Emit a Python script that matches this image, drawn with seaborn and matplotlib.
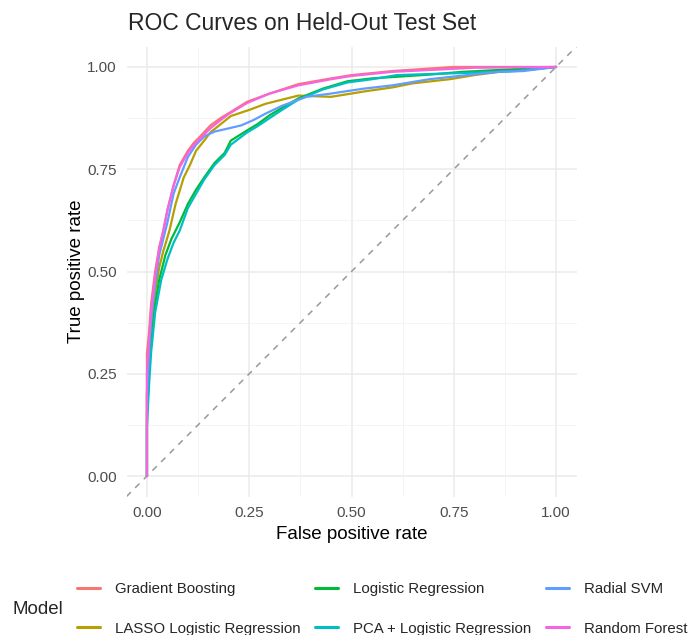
import numpy as np
import pandas as pd
import matplotlib
matplotlib.use("Agg")
import matplotlib.pyplot as plt
import seaborn as sns
from matplotlib.lines import Line2D

models = ["Gradient Boosting", "LASSO Logistic Regression", "Logistic Regression",
          "PCA + Logistic Regression", "Radial SVM", "Random Forest"]
colors = ["#F8766D", "#B79F00", "#00BA38", "#00BFC4", "#619CFF", "#F564E3"]

gb_fpr = [0, 0, 0.005, 0.01, 0.02, 0.03, 0.04, 0.05, 0.065, 0.08, 0.1, 0.115, 0.13, 0.155, 0.18, 0.205, 0.245, 0.3, 0.37, 0.45, 0.5, 0.6, 0.75, 1]
gb_tpr = [0, 0.30, 0.35, 0.42, 0.50, 0.56, 0.60, 0.65, 0.71, 0.76, 0.795, 0.815, 0.83, 0.857, 0.875, 0.89, 0.915, 0.935, 0.958, 0.972, 0.98, 0.99, 1.0, 1]

rf_fpr = [0, 0, 0.005, 0.01, 0.02, 0.03, 0.04, 0.05, 0.065, 0.08, 0.1, 0.115, 0.13, 0.155, 0.18, 0.2, 0.245, 0.3, 0.37, 0.45, 0.5, 0.6, 0.8, 1]
rf_tpr = [0, 0.25, 0.33, 0.40, 0.49, 0.555, 0.60, 0.65, 0.71, 0.755, 0.79, 0.81, 0.825, 0.85, 0.87, 0.885, 0.912, 0.935, 0.955, 0.97, 0.978, 0.988, 0.998, 1]

svm_fpr = [0, 0, 0.005, 0.01, 0.02, 0.03, 0.04, 0.05, 0.065, 0.08, 0.1, 0.12, 0.14, 0.165, 0.2, 0.23, 0.26, 0.29, 0.33, 0.39, 0.45, 0.53, 0.6, 0.69, 0.8, 0.86, 0.92, 1]
svm_tpr = [0, 0.2, 0.3, 0.38, 0.47, 0.54, 0.58, 0.62, 0.69, 0.73, 0.78, 0.81, 0.83, 0.842, 0.85, 0.857, 0.87, 0.886, 0.905, 0.927, 0.935, 0.947, 0.955, 0.97, 0.982, 0.988, 0.99, 1]

lasso_fpr = [0, 0, 0.005, 0.01, 0.02, 0.03, 0.04, 0.055, 0.07, 0.09, 0.105, 0.12, 0.14, 0.155, 0.18, 0.205, 0.25, 0.29, 0.33, 0.37, 0.42, 0.45, 0.5, 0.53, 0.6, 0.65, 0.74, 0.8, 0.86, 0.95, 1]
lasso_tpr = [0, 0.2, 0.28, 0.36, 0.45, 0.51, 0.55, 0.60, 0.665, 0.73, 0.76, 0.795, 0.82, 0.84, 0.86, 0.88, 0.895, 0.91, 0.92, 0.93, 0.928, 0.927, 0.935, 0.94, 0.95, 0.96, 0.97, 0.98, 0.988, 0.995, 1]

lr_fpr = [0, 0, 0.005, 0.01, 0.02, 0.03, 0.045, 0.06, 0.08, 0.1, 0.12, 0.14, 0.165, 0.19, 0.205, 0.245, 0.27, 0.3, 0.33, 0.37, 0.43, 0.49, 0.55, 0.61, 0.7, 0.77, 0.85, 0.95, 1]
lr_tpr = [0, 0.15, 0.25, 0.32, 0.42, 0.48, 0.54, 0.58, 0.62, 0.665, 0.7, 0.73, 0.765, 0.79, 0.82, 0.845, 0.86, 0.882, 0.9, 0.923, 0.947, 0.965, 0.972, 0.976, 0.982, 0.988, 0.992, 0.997, 1]

pca_fpr = [0, 0, 0.005, 0.01, 0.02, 0.035, 0.05, 0.065, 0.08, 0.1, 0.12, 0.14, 0.165, 0.19, 0.205, 0.245, 0.27, 0.3, 0.33, 0.37, 0.43, 0.49, 0.55, 0.61, 0.7, 0.8, 0.9, 0.95, 1]
pca_tpr = [0, 0.12, 0.22, 0.30, 0.40, 0.48, 0.53, 0.57, 0.60, 0.655, 0.69, 0.725, 0.76, 0.785, 0.81, 0.84, 0.855, 0.875, 0.895, 0.92, 0.945, 0.962, 0.97, 0.98, 0.983, 0.986, 0.99, 0.995, 1]

tick_values = [0, 0.25, 0.5, 0.75, 1.0]
tick_labels = ["0.00", "0.25", "0.50", "0.75", "1.00"]

curves = {
    "Gradient Boosting": (gb_fpr, gb_tpr),
    "LASSO Logistic Regression": (lasso_fpr, lasso_tpr),
    "Logistic Regression": (lr_fpr, lr_tpr),
    "PCA + Logistic Regression": (pca_fpr, pca_tpr),
    "Radial SVM": (svm_fpr, svm_tpr),
    "Random Forest": (rf_fpr, rf_tpr),
}

rows = []
for m in models:
    f, t = curves[m]
    for a, b in zip(f, t):
        rows.append({"Model": m, "fpr": a, "tpr": b})
df = pd.DataFrame(rows)

sns.set_theme(style="white")
plt.rcParams["font.family"] = ["Liberation Sans", "DejaVu Sans"]

fig = plt.figure(figsize=(6.91, 6.35), dpi=100)
ax = fig.add_axes([126.5 / 691, 1 - 496.5 / 635, 450 / 691, 450 / 635])

# grid (major + minor, theme_minimal-like)
for v in tick_values:
    ax.axvline(v, color="#EBEBEB", lw=1.1, zorder=0)
    ax.axhline(v, color="#EBEBEB", lw=1.1, zorder=0)
for v in [0.125, 0.375, 0.625, 0.875]:
    ax.axvline(v, color="#F2F2F2", lw=0.6, zorder=0)
    ax.axhline(v, color="#F2F2F2", lw=0.6, zorder=0)

ax.plot([-0.05, 1.05], [-0.05, 1.05], ls=(0, (4, 4)), color="#999999", lw=1.1, zorder=1)

sns.lineplot(data=df, x="fpr", y="tpr", hue="Model", hue_order=models,
             palette=colors, sort=False, estimator=None, units="Model",
             linewidth=1.6, ax=ax, legend=False, zorder=2)

ax.set_xlim(-0.05, 1.05)
ax.set_ylim(-0.05, 1.05)
ax.set_xticks(tick_values)
ax.set_yticks(tick_values)
ax.set_xticklabels(tick_labels)
ax.set_yticklabels(tick_labels)
ax.tick_params(axis="both", length=0, labelsize=11, labelcolor="#4D4D4D", pad=7)
for s in ax.spines.values():
    s.set_visible(False)
ax.set_xlabel("False positive rate", fontsize=13.5, color="black", labelpad=4.5)
ax.set_ylabel("True positive rate", fontsize=13.5, color="black", labelpad=1.5)

fig.text(128 / 691, 1 - 23 / 635, "ROC Curves on Held-Out Test Set", fontsize=16.5,
         ha="left", va="center")

handles = [Line2D([0], [0], color=c, lw=2.2) for c in colors]
leg = fig.legend(handles, models, ncol=3, loc="center left",
                 bbox_to_anchor=(77 / 691, 1 - 609 / 635), frameon=False,
                 fontsize=10.8, handlelength=1.55, handletextpad=1.0,
                 columnspacing=0.95, labelspacing=1.67, borderpad=0,
                 borderaxespad=0)
fig.text(12 / 691, 1 - 610 / 635, "Model", fontsize=13.5, ha="left", va="center")

fig.savefig("out.png", dpi=100, facecolor="white")
